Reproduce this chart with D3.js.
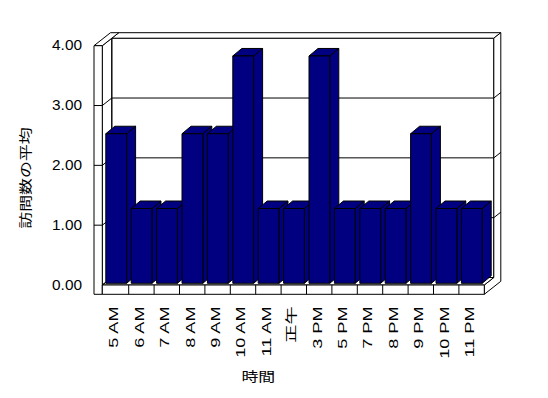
<!DOCTYPE html>
<html>
<head>
<meta charset="utf-8">
<script src="https://cdn.jsdelivr.net/npm/d3@7"></script>
<style>
body { margin: 0; background: #fff; }
text { font-family: "Liberation Sans", "Noto Sans CJK JP", sans-serif; fill: #000; }
</style>
</head>
<body>
<div id="chart"></div>
<script>
// chart data
var categories = ["5 AM", "6 AM", "7 AM", "8 AM", "9 AM", "10 AM", "11 AM", "正午",
                  "3 PM", "5 PM", "7 PM", "8 PM", "9 PM", "10 PM", "11 PM"];
var visits = [2.5, 1.25, 1.25, 2.5, 2.5, 3.8, 1.25, 1.25, 3.8, 1.25, 1.25, 1.25, 2.5, 1.25, 1.25];
var yTicks = [0, 1, 2, 3, 4];
var yTitle = "訪問数の平均",
	xTitle = "時間";

// layout of the 3d box
var pageWidth = 548,
	pageHeight = 398,
	wallLeft = 94,          // outer edge of the left wall
	plotLeft = 102.3,       // inner edge of the left wall (front)
	floorBottom = 294.3,
	depth = {x: 9.5, y: -7.5},   // front plane -> back wall
	thick = {x: 7, y: -5.5},     // back wall thickness
	barShift = {x: 0.5, y: -1.7},
	barDepth = {x: 9, y: -7.5},
	barPad = 2,
	barWidth = 20.8,
	navy = "#000080";

var xScale = d3.scaleBand().domain(categories).range([103.3, 484.3]);
var yScale = d3.scaleLinear().domain([0, 4]).range([285, 45.7]);

var plotRight = xScale.range()[1];
var yTop = yScale(4), yBase = yScale(0);

function poly(pts) {
	return "M" + pts.map(function(p) { return p[0] + "," + p[1]; }).join("L") + "Z";
}

var svg = d3.select("#chart")
	.append("svg")
	.attr("width", pageWidth)
	.attr("height", pageHeight);

var box = svg.append("g")
	.attr("fill", "#fff")
	.attr("stroke", "#000")
	.attr("stroke-width", 1);

// back wall, front face
var bx0 = plotLeft + depth.x, bx1 = plotRight + depth.x;
box.append("path")
	.attr("d", poly([[bx0, yTop + depth.y], [bx1, yTop + depth.y], [bx1, yBase + depth.y], [bx0, yBase + depth.y]]));

// back wall top and right side
box.append("path")
	.attr("d", poly([[bx0, yTop + depth.y], [bx1, yTop + depth.y],
		[bx1 + thick.x, yTop + depth.y + thick.y], [bx0 + thick.x, yTop + depth.y + thick.y]]));
box.append("path")
	.attr("d", poly([[bx1, yTop + depth.y], [bx1 + thick.x, yTop + depth.y + thick.y],
		[bx1 + thick.x, floorBottom + depth.y + thick.y], [plotRight, floorBottom], [plotRight, yBase], [bx1, yBase + depth.y]]));

// floor top
box.append("path")
	.attr("d", poly([[plotLeft, yBase], [plotRight, yBase], [bx1, yBase + depth.y], [bx0, yBase + depth.y]]));

// gridlines: back wall, its right side and the inner face of the left wall
var grid = svg.append("g").attr("stroke", "#000").attr("fill", "none");
yTicks.slice(1, -1).forEach(function(t) {
	var yy = yScale(t);
	grid.append("path")
		.attr("d", "M" + plotLeft + "," + yy +
			"L" + bx0 + "," + (yy + depth.y) +
			"L" + bx1 + "," + (yy + depth.y) +
			"L" + (bx1 + thick.x) + "," + (yy + depth.y + thick.y));
});

// left wall inner face
box.append("path")
	.attr("fill", "none")
	.attr("d", poly([[plotLeft, yTop], [bx0, yTop + depth.y], [bx0, yBase + depth.y], [plotLeft, yBase]]));

// left wall top
box.append("path")
	.attr("d", poly([[wallLeft, yTop], [plotLeft, yTop],
		[plotLeft + depth.x + thick.x, yTop + depth.y + thick.y], [wallLeft + depth.x + thick.x, yTop + depth.y + thick.y]]));

// left wall front
box.append("path")
	.attr("d", poly([[wallLeft, yTop], [plotLeft, yTop], [plotLeft, floorBottom], [wallLeft, floorBottom]]));

// tick marks across the wall front
box.selectAll(".ytick").data(yTicks.slice(1, -1))
	.enter().append("line")
	.attr("x1", wallLeft).attr("x2", plotLeft)
	.attr("y1", function(d) { return yScale(d); })
	.attr("y2", function(d) { return yScale(d); });

// floor front with category dividers
box.append("path")
	.attr("d", poly([[plotLeft, yBase], [plotRight, yBase], [plotRight, floorBottom], [plotLeft, floorBottom]]));
box.selectAll(".xdiv").data(categories.slice(1))
	.enter().append("line")
	.attr("x1", function(d) { return xScale(d); })
	.attr("x2", function(d) { return xScale(d); })
	.attr("y1", yBase).attr("y2", floorBottom);

// bars, drawn left to right so each covers the side of the previous one
var bars = svg.selectAll(".bar")
	.data(categories.map(function(c, i) { return {cat: c, value: visits[i]}; }))
	.enter().append("g")
	.attr("class", "bar")
	.attr("fill", navy)
	.attr("stroke", "#000")
	.attr("stroke-linejoin", "round");

bars.append("path")
	.attr("d", function(d) {
		var x0 = xScale(d.cat) + barPad + barShift.x + barWidth,
			y0 = yScale(0) + barShift.y,
			y1 = yScale(d.value) + barShift.y;
		return poly([[x0, y1], [x0 + barDepth.x, y1 + barDepth.y], [x0 + barDepth.x, y0 + barDepth.y], [x0, y0]]);
	});

bars.append("path")
	.attr("d", function(d) {
		var x0 = xScale(d.cat) + barPad + barShift.x,
			y1 = yScale(d.value) + barShift.y;
		return poly([[x0, y1], [x0 + barDepth.x, y1 + barDepth.y],
			[x0 + barWidth + barDepth.x, y1 + barDepth.y], [x0 + barWidth, y1]]);
	});

bars.append("rect")
	.attr("x", function(d) { return xScale(d.cat) + barPad + barShift.x; })
	.attr("y", function(d) { return yScale(d.value) + barShift.y; })
	.attr("width", barWidth)
	.attr("height", function(d) { return yScale(0) - yScale(d.value); });

// y tick labels
svg.selectAll(".ylabel").data(yTicks)
	.enter().append("text")
	.attr("transform", function(d) { return "translate(82," + yScale(d) + ") scale(1.1,1)"; })
	.attr("text-anchor", "end")
	.attr("dominant-baseline", "central")
	.style("font-size", "14px")
	.text(function(d) { return d3.format(".2f")(d); });

// x category labels, rotated
svg.selectAll(".xlabel").data(categories)
	.enter().append("text")
	.attr("transform", function(d) {
		return "translate(" + (xScale(d) + xScale.bandwidth() / 2 - 2) + ",306.5) rotate(-90) scale(1.45,1)";
	})
	.attr("text-anchor", "end")
	.attr("dominant-baseline", "central")
	.style("font-size", "12.5px")
	.text(function(d) { return d; });

// axis titles
svg.append("text")
	.attr("transform", "translate(25,178) rotate(-90) scale(1.3,1)")
	.attr("text-anchor", "middle")
	.attr("dominant-baseline", "central")
	.style("font-size", "13px")
	.text(yTitle);

svg.append("text")
	.attr("transform", "translate(258.3,376) scale(1.3,1)")
	.attr("text-anchor", "middle")
	.attr("dominant-baseline", "central")
	.style("font-size", "13px")
	.text(xTitle);
</script>
</body>
</html>
